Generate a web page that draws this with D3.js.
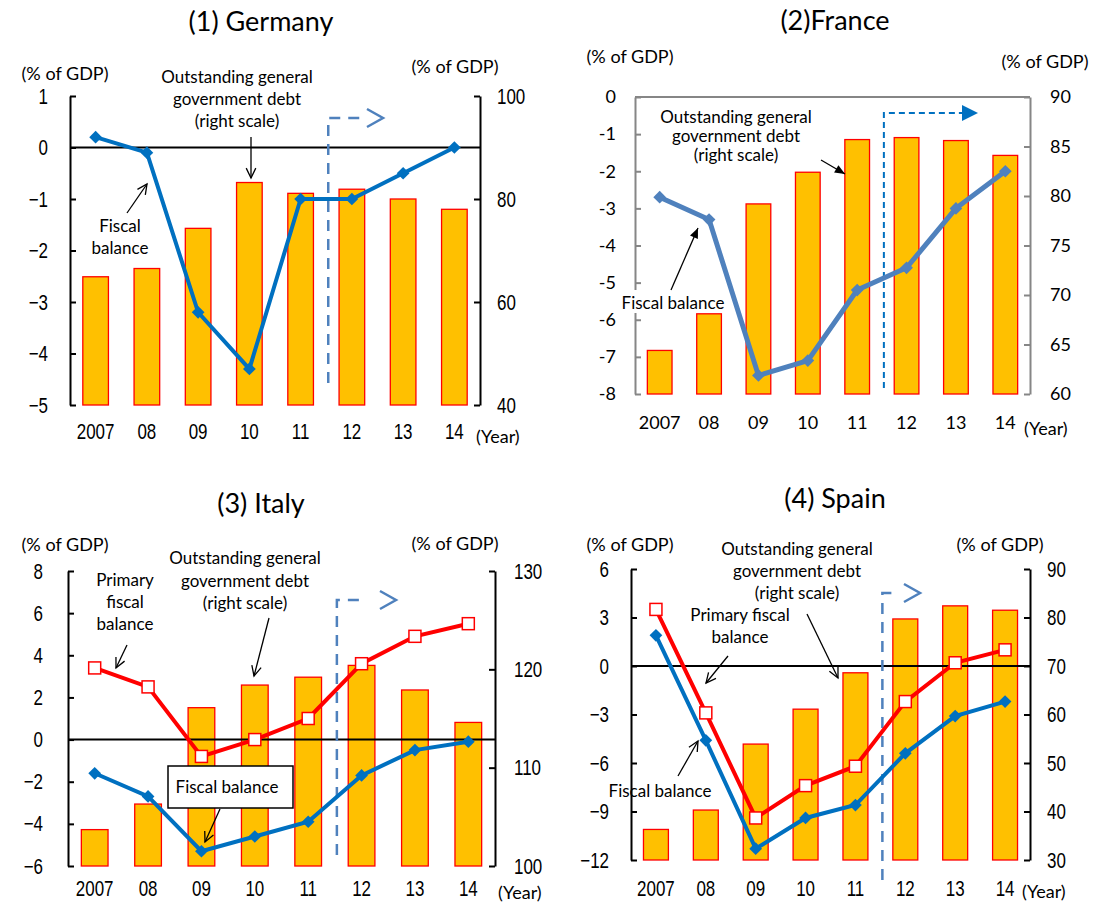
<!DOCTYPE html>
<html>
<head>
<meta charset="utf-8">
<script src="https://cdn.jsdelivr.net/npm/d3@7"></script>
<style>
body { margin: 0; background: #fff; }
svg text { fill: #000; }
</style>
</head>
<body>
<div id="chart"></div>
<script>
// data
var years = ["2007", "08", "09", "10", "11", "12", "13", "14"];

var deDebt = [64.9, 66.5, 74.3, 83.2, 81.1, 81.9, 80.0, 78.0];
var deFiscal = [0.2, -0.1, -3.2, -4.3, -1.0, -1.0, -0.5, 0.0];

var frDebt = [64.4, 68.1, 79.2, 82.4, 85.7, 85.9, 85.6, 84.1];
var frFiscal = [-2.7, -3.3, -7.5, -7.1, -5.2, -4.6, -3.0, -2.0];

var itDebt = [103.7, 106.3, 116.1, 118.4, 119.2, 120.4, 117.9, 114.6];
var itFiscal = [-1.6, -2.7, -5.3, -4.6, -3.9, -1.7, -0.5, -0.1];
var itPrimary = [3.4, 2.5, -0.8, 0.0, 1.0, 3.6, 4.9, 5.5];

var esDebt = [36.3, 40.3, 53.9, 61.1, 68.6, 79.7, 82.4, 81.5];
var esFiscal = [1.9, -4.6, -11.3, -9.4, -8.6, -5.4, -3.1, -2.2];
var esPrimary = [3.5, -2.9, -9.4, -7.4, -6.2, -2.2, 0.2, 1.0];

var deLeftTicks = [1, 0, -1, -2, -3, -4, -5];
var deRightTicks = [100, 80, 60, 40];
var frLeftTicks = [0, -1, -2, -3, -4, -5, -6, -7, -8];
var frRightTicks = [90, 85, 80, 75, 70, 65, 60];
var itLeftTicks = [8, 6, 4, 2, 0, -2, -4, -6];
var itRightTicks = [130, 120, 110, 100];
var esLeftTicks = [6, 3, 0, -3, -6, -9, -12];
var esRightTicks = [90, 80, 70, 60, 50, 40, 30];

var svg = d3.select("#chart").append("svg")
    .attr("width", 1108)
    .attr("height", 903);

var narrow = "'Liberation Sans', Arial, sans-serif";
var label = "Lato, 'Open Sans', sans-serif";
var squeeze = 0.77; // the numerals in the original are a condensed gothic

// simple arrow: open V head (filled = triangle)
function arrow(g, x1, y1, x2, y2, filled) {
    g.append("line")
        .attr("x1", x1).attr("y1", y1).attr("x2", x2).attr("y2", y2)
        .attr("stroke", "#000").attr("stroke-width", 1.3);
    var a = Math.atan2(y2 - y1, x2 - x1);
    var len = 11, sp = filled ? 0.4 : 0.45;
    var p1 = [x2 - len * Math.cos(a - sp), y2 - len * Math.sin(a - sp)];
    var p2 = [x2 - len * Math.cos(a + sp), y2 - len * Math.sin(a + sp)];
    if (filled) {
        g.append("path")
            .attr("d", "M" + p1 + "L" + x2 + "," + y2 + "L" + p2 + "Z")
            .attr("fill", "#000");
    } else {
        g.append("path")
            .attr("d", "M" + p1 + "L" + x2 + "," + y2 + "L" + p2)
            .attr("fill", "none").attr("stroke", "#000").attr("stroke-width", 1.3);
    }
}

function textLines(g, lines, x, y0, dy, size) {
    lines.forEach(function(t, i) {
        g.append("text")
            .attr("x", x).attr("y", y0 + i * dy)
            .attr("text-anchor", "middle")
            .attr("font-family", label)
            .attr("font-size", size || 17)
            .text(t);
    });
}

function drawPanel(p) {
    var g = svg.append("g");

    var x = d3.scaleBand().domain(years).range([p.x0, p.x1])
        .paddingInner(0.5).paddingOuter(0.25);
    var yL = d3.scaleLinear().domain(p.leftDomain).range([p.y1, p.y0]);
    var yR = d3.scaleLinear().domain(p.rightDomain).range([p.y1, p.y0]);
    var cx = function(i) { return x(years[i]) + x.bandwidth() / 2; };

    var tickFont = p.france ? label : narrow;
    var tickSize = p.france ? 18 : 22;
    var sq = p.france ? 1 : squeeze;
    var axisColor = p.france ? "#868686" : "#000";

    // bars - debt on right scale
    g.selectAll(".bar")
        .data(p.debt)
        .enter().append("rect")
        .attr("x", function(d, i) { return x(years[i]); })
        .attr("width", x.bandwidth())
        .attr("y", function(d) { return yR(d); })
        .attr("height", function(d) { return yR(p.rightDomain[0]) - yR(d); })
        .attr("fill", "#FFC000")
        .attr("stroke", "#FF0000")
        .attr("stroke-width", 1.3);

    // zero line (France: frame top instead)
    if (!p.france) {
        g.append("line")
            .attr("x1", p.x0).attr("x2", p.x1)
            .attr("y1", yL(0)).attr("y2", yL(0))
            .attr("stroke", "#000").attr("stroke-width", 2);
    } else {
        g.append("line")
            .attr("x1", p.x0).attr("x2", p.x1)
            .attr("y1", p.y0).attr("y2", p.y0)
            .attr("stroke", axisColor).attr("stroke-width", 2);
    }

    // axes, ticks pointing inward
    var la = g.append("g")
        .attr("transform", "translate(" + p.x0 + ",0)")
        .call(d3.axisLeft(yL).tickValues(p.leftTicks).tickSizeInner(-6).tickSizeOuter(0)
            .tickPadding(p.leftPad)
            .tickFormat(p.france ? function(d) { return String(d); } : d3.format("")));
    var ra = g.append("g")
        .attr("transform", "translate(" + p.x1 + ",0)")
        .call(d3.axisRight(yR).tickValues(p.rightTicks).tickSizeInner(-6).tickSizeOuter(0)
            .tickPadding(p.rightPad));
    [la, ra].forEach(function(a) {
        a.select(".domain").attr("stroke", axisColor).attr("stroke-width", 2);
        a.selectAll(".tick line").attr("stroke", axisColor).attr("stroke-width", 2);
        a.selectAll(".tick text")
            .attr("font-family", tickFont)
            .attr("font-size", tickSize)
            .attr("fill", "#000")
            .attr("x", function() { return +d3.select(this).attr("x") / sq; })
            .attr("transform", "scale(" + sq + ",1)");
    });

    // x labels
    g.selectAll(".xl")
        .data(years)
        .enter().append("text")
        .attr("x", function(d) { return (x(d) + x.bandwidth() / 2) / sq; })
        .attr("y", p.xLabelY)
        .attr("transform", "scale(" + sq + ",1)")
        .attr("text-anchor", "middle")
        .attr("font-family", tickFont)
        .attr("font-size", tickSize)
        .text(function(d) { return d; });

    g.append("text")
        .attr("x", p.yearX).attr("y", p.yearY)
        .attr("font-family", label).attr("font-size", 18)
        .text("(Year)");

    // units
    g.append("text").attr("x", p.unitL[0]).attr("y", p.unitL[1])
        .attr("text-anchor", "middle").attr("font-family", label).attr("font-size", 18)
        .text("(% of GDP)");
    g.append("text").attr("x", p.unitR[0]).attr("y", p.unitR[1])
        .attr("text-anchor", "middle").attr("font-family", label).attr("font-size", 18)
        .text("(% of GDP)");

    // title
    g.append("text").attr("x", p.title[1]).attr("y", p.title[2])
        .attr("text-anchor", "middle").attr("font-family", label).attr("font-size", 27)
        .text(p.title[0]);

    // dashed arrow for the projection years
    var xm = (cx(4) + cx(5)) / 2 + 2;
    var dashColor = p.france ? "#0070C0" : "#4F81BD";
    g.append("path")
        .attr("d", "M" + xm + "," + p.dash.bottom + "V" + p.dash.top + "H" + p.dash.end)
        .attr("fill", "none")
        .attr("stroke", dashColor)
        .attr("stroke-width", p.france ? 2 : 2.5)
        .attr("stroke-dasharray", p.france ? "6,4" : "11,8");
    if (p.france) {
        g.append("path")
            .attr("d", "M" + p.dash.end + "," + (p.dash.top - 8) + "L" + (p.dash.end + 16) + "," + p.dash.top +
                "L" + p.dash.end + "," + (p.dash.top + 8) + "Z")
            .attr("fill", dashColor);
    } else {
        g.append("path")
            .attr("d", "M" + (p.dash.head - 16) + "," + (p.dash.top - 9) + "L" + p.dash.head + "," + p.dash.top +
                "L" + (p.dash.head - 16) + "," + (p.dash.top + 9))
            .attr("fill", "none")
            .attr("stroke", dashColor)
            .attr("stroke-width", 2.5);
    }

    if (p.before) p.before(g);

    // primary fiscal balance (red, squares)
    if (p.primary) {
        g.append("path")
            .datum(p.primary)
            .attr("d", d3.line().x(function(d, i) { return cx(i); }).y(function(d) { return yL(d); }))
            .attr("fill", "none").attr("stroke", "#FF0000").attr("stroke-width", 4);
        g.selectAll(".sq")
            .data(p.primary)
            .enter().append("rect")
            .attr("x", function(d, i) { return cx(i) - 6; })
            .attr("y", function(d) { return yL(d) - 6; })
            .attr("width", 12).attr("height", 12)
            .attr("fill", "#fff").attr("stroke", "#FF0000").attr("stroke-width", 1.5);
    }

    // fiscal balance (blue, diamonds)
    var lineColor = p.france ? "#4F81BD" : "#0070C0";
    g.append("path")
        .datum(p.fiscal)
        .attr("d", d3.line().x(function(d, i) { return cx(i); }).y(function(d) { return yL(d); }))
        .attr("fill", "none").attr("stroke", lineColor).attr("stroke-width", p.france ? 5 : 4);
    g.selectAll(".dm")
        .data(p.fiscal)
        .enter().append("rect")
        .attr("x", -4.5).attr("y", -4.5)
        .attr("width", 9).attr("height", 9)
        .attr("transform", function(d, i) { return "translate(" + cx(i) + "," + yL(d) + ") rotate(45)"; })
        .attr("fill", lineColor);

    if (p.after) p.after(g);
}

drawPanel({
    x0: 70, x1: 480, y0: 96, y1: 405,
    leftDomain: [-5, 1], rightDomain: [40, 100],
    leftTicks: deLeftTicks, rightTicks: deRightTicks,
    leftPad: 22, rightPad: 17,
    debt: deDebt, fiscal: deFiscal,
    xLabelY: 439, yearX: 476, yearY: 443,
    unitL: [65, 80], unitR: [455, 73],
    title: ["(1) Germany", 261, 31],
    dash: { bottom: 383, top: 118, end: 362, head: 383 },
    after: function(g) {
        textLines(g, ["Outstanding general", "government debt", "(right scale)"], 237, 83, 22);
        arrow(g, 251, 137, 251, 178);
        textLines(g, ["Fiscal", "balance"], 120, 232, 22);
        arrow(g, 127, 213, 147, 184);
    }
});

drawPanel({
    france: true,
    x0: 635, x1: 1030, y0: 97, y1: 394,
    leftDomain: [-8, 0], rightDomain: [60, 90],
    leftTicks: frLeftTicks, rightTicks: frRightTicks,
    leftPad: 19, rightPad: 20,
    debt: frDebt, fiscal: frFiscal,
    xLabelY: 429, yearX: 1024, yearY: 435,
    unitL: [630, 63], unitR: [1045, 68],
    title: ["(2)France", 835, 30],
    dash: { bottom: 388, top: 113, end: 962 },
    before: function(g) {
        g.append("rect").attr("x", 620).attr("y", 290).attr("width", 108).attr("height", 23)
            .attr("fill", "#fff");
        g.append("text").attr("x", 673).attr("y", 309)
            .attr("text-anchor", "middle").attr("font-family", label).attr("font-size", 17)
            .text("Fiscal balance");
    },
    after: function(g) {
        textLines(g, ["Outstanding general", "government debt", "(right scale)"], 736, 123, 19);
        arrow(g, 821, 160, 845, 174, true);
        arrow(g, 671, 290, 698, 228, true);
    }
});

drawPanel({
    x0: 68, x1: 495, y0: 571, y1: 866,
    leftDomain: [-6, 8], rightDomain: [100, 130],
    leftTicks: itLeftTicks, rightTicks: itRightTicks,
    leftPad: 25, rightPad: 19,
    debt: itDebt, fiscal: itFiscal, primary: itPrimary,
    xLabelY: 896, yearX: 498, yearY: 899,
    unitL: [65, 551], unitR: [455, 550],
    title: ["(3) Italy", 261, 513],
    dash: { bottom: 855, top: 600, end: 366, head: 396 },
    after: function(g) {
        textLines(g, ["Primary", "fiscal", "balance"], 125, 586, 22);
        arrow(g, 127, 645, 116, 668);
        textLines(g, ["Outstanding general", "government debt", "(right scale)"], 245, 564, 22.5);
        arrow(g, 269, 618, 254, 676);
        g.append("rect").attr("x", 168).attr("y", 766).attr("width", 125).attr("height", 42)
            .attr("fill", "#fff").attr("stroke", "#000").attr("stroke-width", 1.5);
        g.append("text").attr("x", 227).attr("y", 793)
            .attr("text-anchor", "middle").attr("font-family", label).attr("font-size", 17)
            .text("Fiscal balance");
        arrow(g, 220, 809, 205, 842);
    }
});

drawPanel({
    x0: 631, x1: 1030, y0: 569, y1: 860,
    leftDomain: [-12, 6], rightDomain: [30, 90],
    leftTicks: esLeftTicks, rightTicks: esRightTicks,
    leftPad: 22, rightPad: 17,
    debt: esDebt, fiscal: esFiscal, primary: esPrimary,
    xLabelY: 896, yearX: 1022, yearY: 898,
    unitL: [630, 551], unitR: [1000, 551],
    title: ["(4) Spain", 835, 508],
    dash: { bottom: 880, top: 593, end: 892, head: 920 },
    after: function(g) {
        textLines(g, ["Outstanding general", "government debt", "(right scale)"], 797, 555, 22);
        arrow(g, 807, 614, 838, 678);
        textLines(g, ["Primary fiscal", "balance"], 740, 621, 22);
        arrow(g, 728, 656, 706, 683);
        g.append("text").attr("x", 660).attr("y", 797)
            .attr("text-anchor", "middle").attr("font-family", label).attr("font-size", 17)
            .text("Fiscal balance");
        arrow(g, 678, 776, 698, 741);
    }
});
</script>
</body>
</html>
